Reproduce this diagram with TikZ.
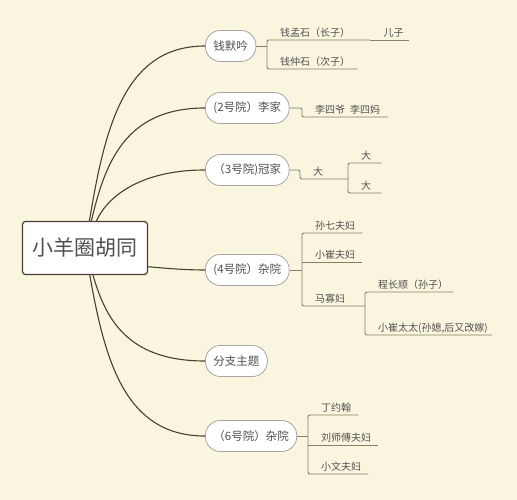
\documentclass[tikz,border=0pt]{standalone}
\usepackage{fontspec}
\setmainfont{Noto Sans CJK SC}
\definecolor{bgc}{RGB}{250,245,223}
\definecolor{linec}{RGB}{72,64,50}
\definecolor{subc}{RGB}{138,127,102}
\definecolor{textc}{RGB}{80,80,80}
\begin{document}
\begin{tikzpicture}[x=1pt,y=-1pt]
\tikzset{
  root/.style={draw=linec, line width=1.2pt, fill=white, rounded corners=3pt,
    minimum width=125pt, minimum height=53pt, text=textc,
    font=\fontsize{21}{24}\selectfont},
  topic/.style={draw=gray!70, line width=0.8pt, fill=white, rounded corners=15pt,
    minimum height=31pt, inner xsep=8pt, anchor=west, text=textc,
    font=\fontsize{11.5}{13}\selectfont},
  sub/.style={anchor=south west, inner sep=0pt, text width=#1, align=left,
    text height=9pt, text depth=3pt, text=textc,
    font=\fontsize{10}{12}\selectfont, execute at begin node=\hspace*{13pt}},
  curve/.style={draw=linec, line width=1.1pt},
  bar/.style={draw=subc, line width=0.9pt, rounded corners=2pt},
}
\path[use as bounding box, fill=bgc] (0,0) rectangle (517,500);
%
\node[root] at (85,248) (root) {小羊圈胡同};
%
\node[topic] at (205,46) (qmy) {钱默吟};
\node[topic] at (205,108) (lj) {(2号院）李家};
\node[topic] at (205,170) (gj) {（3号院)冠家};
\node[topic] at (205,270) (sy) {(4号院）杂院};
\node[topic] at (205,361) (fz) {分支主题};
\node[topic] at (205,436) (ly) {（6号院）杂院};
%
\foreach \n/\a/\d/\b in {qmy/20/-122/-80, lj/20/-85/-80, gj/20/-47/-70, sy/60/18/-30, fz/20/68/-80, ly/20/113/-80}
  \draw[curve] (root) .. controls +(\a,\d) and +(\b,0) .. (\n.west);
%
\node[sub=103pt] at (267,40) (qms) {钱孟石（长子）};
\node[sub=38pt] at (qms.south east) (ez) {儿子};
\node[sub=90pt] at (267,69) (qzs) {钱仲石（次子）};
\draw[bar] (qmy.east) -- (qmy.east -| qms.south west);
\draw[bar] (qms.south east) -- (qms.south west) -- (qzs.south west) -- (qzs.south east);
\draw[bar] (ez.south west) -- (ez.south east);
%
\node[sub=86pt] at (302,117) (lsy) {李四爷\hspace{5pt}李四妈};
\draw[bar] (lj.east) -- (lj.east -| lsy.south west) -- (lsy.south west) -- (lsy.south east);
%
\node[sub=48pt] at (300,179) (da) {大};
\node[sub=33pt] at (348,163) (da1) {大};
\node[sub=33pt] at (348,193) (da2) {大};
\draw[bar] (gj.east) -- (gj.east -| da.south west) -- (da.south west) -- (da.south east);
\draw[bar] (da1.south east) -- (da1.south west) -- (da2.south west) -- (da2.south east);
%
\node[sub=60pt] at (302,233) (sq) {孙七夫妇};
\node[sub=60pt] at (302,262) (xc) {小崔夫妇};
\node[sub=63pt] at (302,306) (mg) {马寡妇};
\node[sub=88pt] at (365,292) (cs) {程长顺（孙子）};
\node[sub=127pt] at (365,335) (xct) {小崔太太(孙媳,后又改嫁)};
\draw[bar] (sy.east) -- (sy.east -| sq.south west);
\draw[bar] (sq.south east) -- (sq.south west) -- (mg.south west) -- (mg.south east);
\draw[bar] (xc.south west) -- (xc.south east);
\draw[bar] (cs.south east) -- (cs.south west) -- (xct.south west) -- (xct.south east);
%
\node[sub=50pt] at (308,415) (dy) {丁约翰};
\node[sub=70pt] at (308,445) (ls) {刘师傅夫妇};
\node[sub=60pt] at (308,474) (xw) {小文夫妇};
\draw[bar] (ly.east) -- (ly.east -| dy.south west);
\draw[bar] (dy.south east) -- (dy.south west) -- (xw.south west) -- (xw.south east);
\draw[bar] (ls.south west) -- (ls.south east);
\end{tikzpicture}
\end{document}
